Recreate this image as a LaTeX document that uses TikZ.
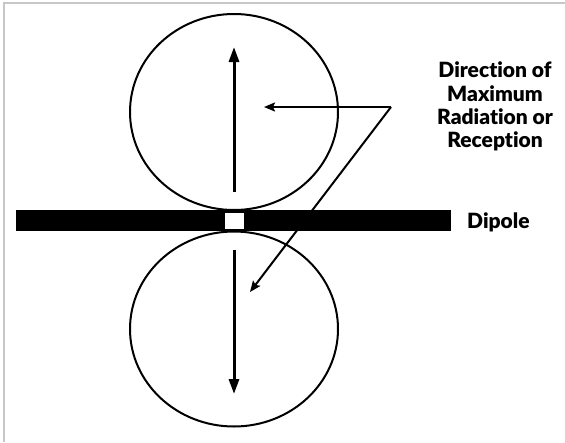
\documentclass[tikz,border=0pt]{standalone}
\usepackage{fontspec}
\setmainfont{Lato}[Ligatures=NoCommon,BoldFont={Lato Black}]
\usetikzlibrary{arrows.meta,shapes.geometric}
\begin{document}
\begin{tikzpicture}[x=1pt,y=-1pt,
  lobe/.style={draw=black,line width=2pt},
  axisarrow/.style={line width=3pt,-{Triangle[length=15pt,width=10pt]}},
  pointer/.style={line width=2pt,-{Stealth[length=11pt,width=9pt,inset=2pt]}},
  lbl/.style={font=\fontsize{21}{23.3}\selectfont\bfseries,text=black,inner sep=0pt,align=center}]
\useasboundingbox (0,0) rectangle (565,442);
\fill[white] (0,0) rectangle (565,442);
% frame edges
\draw[black!22,line width=2pt] (3,2.5) -- (565,2.5);
\draw[black!22,line width=2pt] (4,2) -- (4,442);
% lobes
\node[lobe,ellipse,minimum width=208pt,minimum height=196pt,inner sep=0pt] (top) at (234,112) {};
\node[lobe,ellipse,minimum width=208pt,minimum height=195pt,inner sep=0pt] (bot) at (234,329) {};
% dipole
\fill[black] (16,210) rectangle (451,231);
\node[fill=white,minimum width=19pt,minimum height=16pt,inner sep=0pt] (gap) at (234.5,221) {};
% axis arrows
\coordinate (ts) at (234,192);
\coordinate (te) at (234,47);
\coordinate (bs) at (234,250);
\coordinate (be) at (234,394);
\draw[axisarrow] (ts) -- (te);
\draw[axisarrow] (bs) -- (be);
% labels
\node[lbl] (dir) at (495,106.5) {Direction of\\Maximum\\Radiation or\\Reception};
\node[lbl,anchor=base west] (dip) at (467,228) {Dipole};
% pointers
\coordinate (corner) at (391,107);
\coordinate (p1) at (264,107);
\coordinate (p2) at (250,292);
\draw[pointer] (corner) -- (p1);
\draw[pointer] (corner) -- (p2);
\end{tikzpicture}
\end{document}
